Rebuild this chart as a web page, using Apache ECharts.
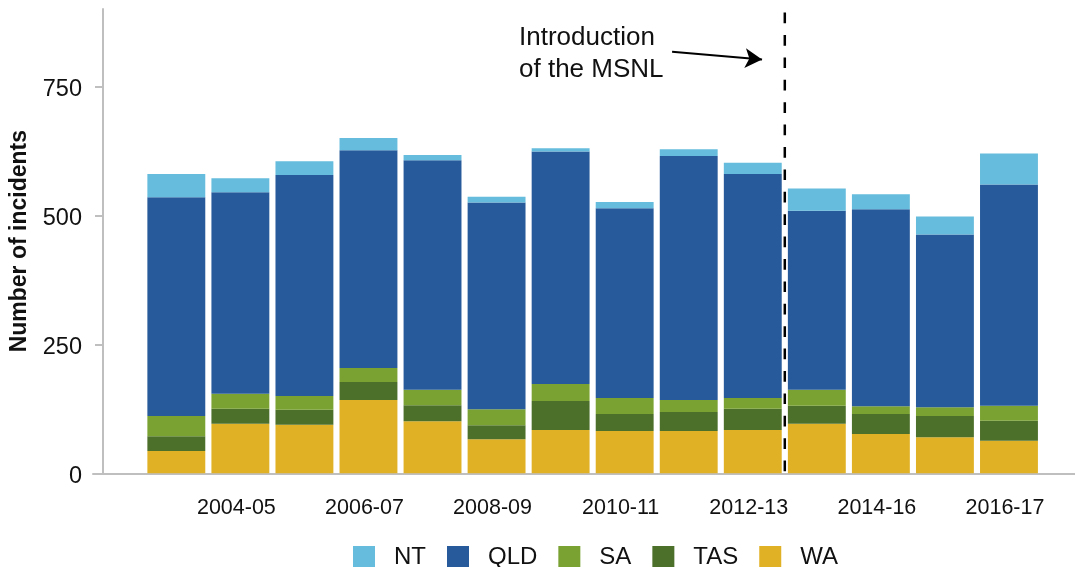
<!DOCTYPE html>
<html>
<head>
<meta charset="utf-8">
<script src="https://cdn.jsdelivr.net/npm/echarts@6/dist/echarts.min.js"></script>
<style>html,body{margin:0;padding:0;background:#fff;}#c{width:1075px;height:567px;}</style>
</head>
<body>
<div id="c"></div>
<script>
const categories = ['2003-04','2004-05','2005-06','2006-07','2007-08','2008-09','2009-10','2010-11','2011-12','2012-13','2013-14','2014-16','2015-16','2016-17'];
const WA  = [43, 96, 94, 142, 101, 66, 84, 82, 82, 84, 96, 76, 70, 63];
const TAS = [29, 29, 29, 35, 31, 27, 56, 33, 37, 41, 35, 39, 41, 39];
const SA  = [39, 29, 27, 27, 30, 31, 33, 31, 23, 21, 31, 15, 17, 29];
const QLD = [424, 391, 428, 422, 445, 401, 451, 368, 473, 434, 347, 382, 335, 429];
const NT  = [45, 27, 27, 24, 10, 11, 6, 12, 13, 22, 43, 29, 35, 60];
const yTicks = [0, 250, 500, 750];
const msnlPosition = 9.5;      // boundary between 2012-13 and 2013-14
const msnlLineTop = 893;
const arrowFrom = [7.74, 817];
const arrowTo = [9.145, 802];
const annotation = 'Introduction\nof the MSNL';

const FONT = '"Liberation Sans", Arial, Helvetica, sans-serif';
const colors = {NT:'#65bcdc', QLD:'#275a9a', SA:'#7aa232', TAS:'#4c6f29', WA:'#e0b124'};

const chart = echarts.init(document.getElementById('c'), null, {renderer:'canvas'});

function barSeries(name, data) {
  return {
    name, type:'bar', stack:'total', data,
    xAxisIndex:0, yAxisIndex:0,
    barCategoryGap:'9.6%',
    itemStyle:{color:colors[name]},
    emphasis:{disabled:true}
  };
}

const option = {
  animation:false,
  textStyle:{fontFamily:FONT},
  grid:[
    {left:143, right:34, top:9, bottom:93.7},
    {left:93, right:0, top:9, bottom:93.7}
  ],
  legend:{
    data:['NT','QLD','SA','TAS','WA'],
    left:353, top:545, padding:0,
    itemWidth:22, itemHeight:22, itemGap:21,
    icon:'rect',
    textStyle:{fontSize:24, color:'#111', fontFamily:FONT, padding:[0,0,0,14]},
    selectedMode:false
  },
  xAxis:[
    {
      type:'category', data:categories, gridIndex:0,
      axisLine:{show:false}, axisTick:{show:false},
      axisLabel:{
        interval:(i)=> i % 2 === 1, margin:24,
        formatter:(v)=> '{c|' + v + '}',
        rich:{c:{fontSize:21.5, color:'#111', fontFamily:FONT, padding:[0,8,0,0]}}
      }
    },
    {
      type:'value', gridIndex:0, min:-0.5, max:13.5, show:false
    },
    {
      type:'value', gridIndex:1, min:0, max:1,
      axisLine:{show:true, onZero:false, lineStyle:{color:'#bfbfbf', width:2}},
      axisTick:{show:false}, axisLabel:{show:false}, splitLine:{show:false}
    }
  ],
  yAxis:[
    {
      type:'value', gridIndex:0, min:0, max:900, interval:250, offset:41.3,
      name:'Number of incidents', nameLocation:'middle', nameGap:72,
      nameTextStyle:{fontSize:23, fontWeight:'bold', color:'#111', fontFamily:FONT},
      axisLine:{show:true, onZero:false, lineStyle:{color:'#bfbfbf', width:2}},
      axisTick:{show:true, length:8, customValues:yTicks, lineStyle:{color:'#bfbfbf', width:2}},
      axisLabel:{
        customValues:yTicks, margin:21,
        formatter:(v)=> '{v|' + v + '}',
        rich:{v:{fontSize:23.5, color:'#111', fontFamily:FONT, padding:[6,0,0,0]}}
      },
      splitLine:{show:false}
    },
    {type:'value', gridIndex:1, min:0, max:1, show:false}
  ],
  series:[
    barSeries('WA', WA),
    barSeries('TAS', TAS),
    barSeries('SA', SA),
    barSeries('QLD', QLD),
    barSeries('NT', NT),
    {
      name:'msnl', type:'line', xAxisIndex:1, yAxisIndex:0,
      data:[[msnlPosition, msnlLineTop],[msnlPosition, 0]],
      symbol:'none', silent:true, z:5,
      lineStyle:{color:'#000', width:2.5, type:[10.7, 11.7]},
      markLine:{
        silent:true, symbol:['none','arrow'], symbolSize:[15,17],
        lineStyle:{color:'#000', width:2, type:'solid'},
        label:{show:false},
        data:[[{coord:arrowFrom},{coord:arrowTo}]]
      }
    }
  ],
  graphic:[
    {type:'text', left:519, top:22, style:{text:annotation, font:'26px '+FONT, lineHeight:31.6, fill:'#111'}}
  ]
};
chart.setOption(option);
</script>
</body>
</html>
